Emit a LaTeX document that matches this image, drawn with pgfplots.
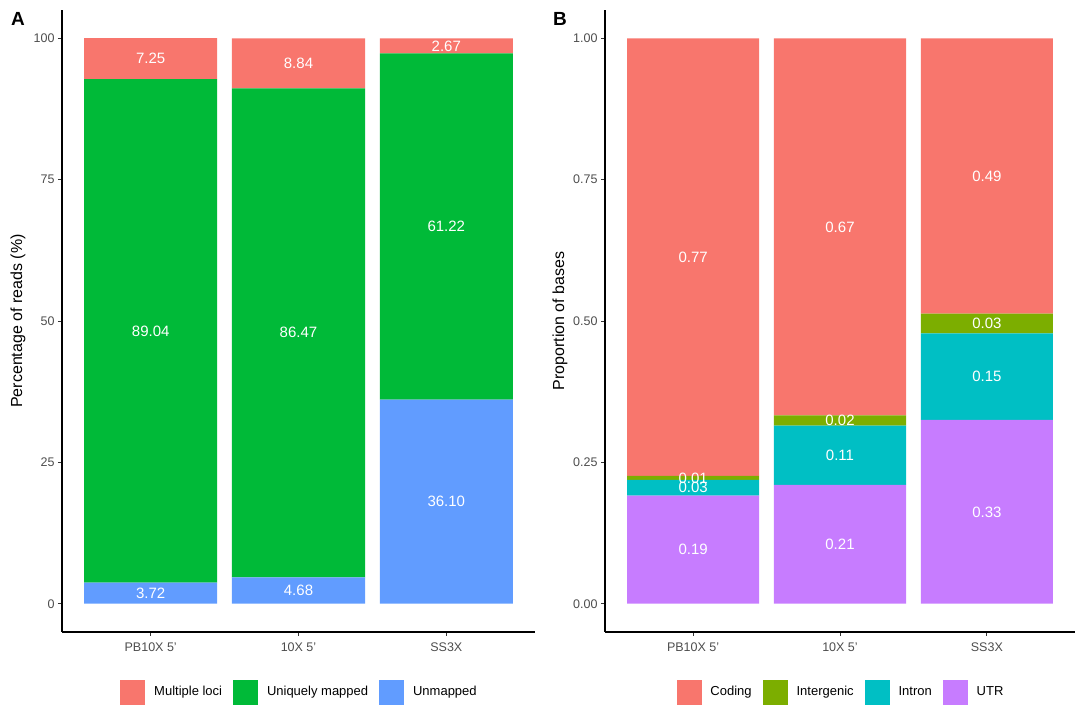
\documentclass[border=0pt]{standalone}
\usepackage{pgfplots}
\pgfplotsset{compat=1.18}
\usepackage{pgfplotstable}
\usepackage{fontspec}
\setmainfont{Liberation Sans}
\definecolor{cMul}{HTML}{F8766D}
\definecolor{cUni}{HTML}{00BA38}
\definecolor{cUnm}{HTML}{619CFF}
\definecolor{cCod}{HTML}{F8766D}
\definecolor{cInt}{HTML}{7CAE00}
\definecolor{cIntr}{HTML}{00BFC4}
\definecolor{cUTR}{HTML}{C77CFF}
\definecolor{tickgray}{HTML}{4D4D4D}
\definecolor{axgray}{HTML}{333333}

% Panel A: percentage of reads
\pgfplotstableread{
x unmapped unique multiple
0 3.72 89.04 7.25
1 4.68 86.47 8.84
2 36.10 61.22 2.67
}\tabA
\pgfplotstableread{
x y label
0 1.86 3.72
0 48.24 89.04
0 96.385 7.25
1 2.34 4.68
1 47.915 86.47
1 95.57 8.84
2 18.05 36.10
2 66.71 61.22
2 98.655 2.67
}\labA
% Panel B: proportion of bases
\pgfplotstableread{
x utr intron intergenic coding
0 0.191 0.028 0.007 0.774
1 0.210 0.105 0.018 0.667
2 0.325 0.153 0.035 0.487
}\tabB
\pgfplotstableread{
x y label
0 0.0955 0.19
0 0.205 0.03
0 0.2225 0.01
0 0.613 0.77
1 0.105 0.21
1 0.2625 0.11
1 0.324 0.02
1 0.6665 0.67
2 0.1625 0.33
2 0.4015 0.15
2 0.4955 0.03
2 0.7565 0.49
}\labB

\pgfplotsset{
  panel/.style={
    anchor=south west, scale only axis, height=622pt,
    xmin=-0.6, xmax=2.6,
    axis lines*=left,
    axis line style={-, line width=1.2pt, black},
    xtick={0,1,2}, xticklabels={PB10X 5', 10X 5', SS3X},
    tick align=outside, major tick length=4pt,
    tick style={line width=0.9pt, axgray},
    yticklabel style={font=\fontsize{12.5}{14}\selectfont, text=tickgray},
    xticklabel style={font=\fontsize{12.5}{14}\selectfont, text=tickgray, yshift=-3pt},
    ybar stacked, bar width=0.9,
  },
  ylab/.style={every axis y label/.style={at={(rel axis cs:0,0.5)}, xshift=#1,
      rotate=90, anchor=center, font=\fontsize{16}{18}\selectfont}},
  labs/.style={
    anchor=south west, scale only axis, height=622pt,
    xmin=-0.6, xmax=2.6, hide axis, clip=false,
    legend style={anchor=center, draw=none, fill=none, inner sep=0pt,
      font=\fontsize{13}{15}\selectfont,
      /tikz/every odd column/.style={column sep=9.5pt},
      /tikz/every even column/.style={column sep=11pt},
      nodes={inner sep=0pt}},
    legend cell align=left,
  },
  barlab/.style={only marks, mark=none, forget plot, nodes near coords,
    point meta=explicit symbolic,
    every node near coord/.append style={anchor=center, text=white,
      font=\fontsize{15}{17}\selectfont}},
}

\begin{document}
\begin{tikzpicture}
\path[use as bounding box] (0,0) rectangle (1080pt,709pt);

% ---------- Panel A ----------
\begin{axis}[panel, at={(62pt,77pt)}, width=473pt,
  ymin=-5, ymax=105,
  ytick={0,25,50,75,100}, yticklabels={0,25,50,75,100},
  ylab=-44pt, ylabel={Percentage of reads (\%)}]
\addplot[fill=cUnm, draw=none] table[x=x, y=unmapped]{\tabA};
\addplot[fill=cUni, draw=none] table[x=x, y=unique]{\tabA};
\addplot[fill=cMul, draw=none] table[x=x, y=multiple]{\tabA};
\end{axis}
\begin{axis}[labs, at={(62pt,77pt)}, width=473pt, ymin=-5, ymax=105,
  legend columns=3, legend style={at={(0.5,-0.096)}}]
\addplot[barlab] table[x=x, y=y, meta=label]{\labA};
\addlegendimage{legend image code/.code={\fill[cMul] (0pt,-12pt) rectangle (24pt,12pt);}}
\addlegendentry{Multiple loci}
\addlegendimage{legend image code/.code={\fill[cUni] (0pt,-12pt) rectangle (24pt,12pt);}}
\addlegendentry{Uniquely mapped}
\addlegendimage{legend image code/.code={\fill[cUnm] (0pt,-12pt) rectangle (24pt,12pt);}}
\addlegendentry{Unmapped}
\end{axis}

% ---------- Panel B ----------
\begin{axis}[panel, at={(605pt,77pt)}, width=470pt,
  ymin=-0.05, ymax=1.05,
  ytick={0,0.25,0.5,0.75,1}, yticklabels={0.00,0.25,0.50,0.75,1.00},
  ylab=-45pt, ylabel={Proportion of bases}]
\addplot[fill=cUTR, draw=none] table[x=x, y=utr]{\tabB};
\addplot[fill=cIntr, draw=none] table[x=x, y=intron]{\tabB};
\addplot[fill=cInt, draw=none] table[x=x, y=intergenic]{\tabB};
\addplot[fill=cCod, draw=none] table[x=x, y=coding]{\tabB};
\end{axis}
\begin{axis}[labs, at={(605pt,77pt)}, width=470pt, ymin=-0.05, ymax=1.05,
  legend columns=4, legend style={at={(0.5,-0.096)}}]
\addplot[barlab] table[x=x, y=y, meta=label]{\labB};
\addlegendimage{legend image code/.code={\fill[cCod] (0pt,-12pt) rectangle (24pt,12pt);}}
\addlegendentry{Coding}
\addlegendimage{legend image code/.code={\fill[cInt] (0pt,-12pt) rectangle (24pt,12pt);}}
\addlegendentry{Intergenic}
\addlegendimage{legend image code/.code={\fill[cIntr] (0pt,-12pt) rectangle (24pt,12pt);}}
\addlegendentry{Intron}
\addlegendimage{legend image code/.code={\fill[cUTR] (0pt,-12pt) rectangle (24pt,12pt);}}
\addlegendentry{UTR}
\end{axis}

% panel letters
\node[font=\bfseries\fontsize{19}{21}\selectfont] at (18pt,690pt) {A};
\node[font=\bfseries\fontsize{19}{21}\selectfont] at (560pt,690pt) {B};
\end{tikzpicture}
\end{document}
